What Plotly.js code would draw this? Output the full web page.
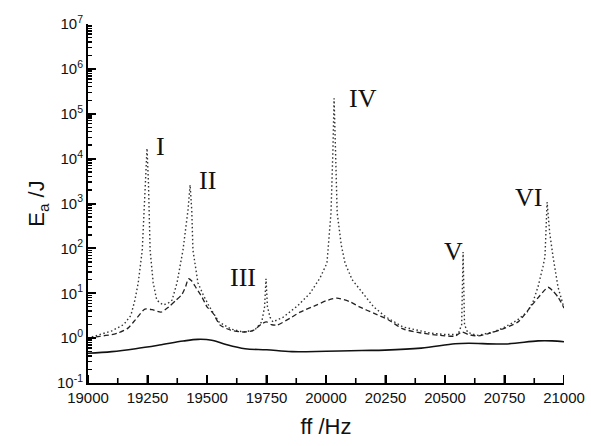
<!DOCTYPE html>
<html>
<head>
<meta charset="utf-8">
<script src="https://cdn.plot.ly/plotly-3.0.1.min.js"></script>
<style>html,body{margin:0;padding:0;background:#fff;}#chart{width:591px;height:446px;}</style>
</head>
<body>
<div id="chart"></div>
<script>
// Series (frequency in Hz, energy in J)
const freqDotted = [19000,19050,19100,19150,19180,19197,19211,19228,19242,19248,19254,19261,19274,19289,19315,19335,19353,19374,19399,19420,19429,19436,19441,19462,19485,19510,19550,19600,19650,19700,19730,19742,19748,19754,19765,19777,19819,19849,19880,19933,19975,20004,20021,20029,20034,20040,20047,20064,20080,20110,20155,20200,20250,20324,20437,20500,20555,20570,20576,20582,20595,20634,20700,20744,20803,20845,20870,20891,20912,20920,20929,20940,20954,20975,21000];
const valDotted  = [1.0,1.2,1.45,2.0,3.2,7,17,91,2900,17000,2900,91,17,7,5.5,5.9,7,17,91,700,2600,700,91,17,9,5,2.3,1.6,1.37,1.5,2.3,5,21,5,2.9,2.3,2.9,3.8,5.2,10,22,47,620,15000,220000,15000,620,120,47,20,10,5,3.0,1.77,1.3,1.2,1.2,2,83,2,1.35,1.15,1.35,1.68,2.5,3.8,6.5,14,40,65,1070,220,65,13.6,4.7];

const freqDashed = [19000,19050,19100,19126,19168,19200,19239,19270,19307,19340,19370,19395,19410,19422,19435,19455,19479,19500,19525,19555,19600,19651,19693,19731,19750,19770,19794,19850,19891,19962,20000,20046,20100,20143,20200,20260,20324,20400,20480,20542,20571,20600,20634,20680,20731,20807,20866,20900,20933,20955,20975,21000];
const valDashed  = [1.0,1.1,1.2,1.3,1.67,2.6,4.45,4.3,3.8,5,7,9.5,14,21,19,13,8.2,5,3.6,1.95,1.5,1.37,1.47,2.1,2.3,2.0,1.95,2.8,3.8,5.5,6.8,7.8,6.5,4.9,3.6,2.6,1.6,1.3,1.15,1.11,1.37,1.2,1.11,1.25,1.52,2.3,5.5,9,13.6,11,8.2,4.7];

const freqSolid = [19000,19100,19200,19300,19400,19462,19520,19580,19660,19750,19857,20000,20150,20248,20400,20542,20600,20752,20891,20950,21000];
const valSolid  = [0.46,0.5,0.58,0.7,0.86,0.94,0.9,0.72,0.58,0.55,0.50,0.51,0.53,0.54,0.6,0.75,0.77,0.74,0.87,0.87,0.83];

const xTicks = [19000,19250,19500,19750,20000,20250,20500,20750,21000];
const xMinorTicks = [19125,19375,19625,19875,20125,20375,20625,20875];
const yTickVals = [0.1,1,10,100,1000,10000,100000,1000000,10000000];
const yTickText = ['10<sup>-1</sup>','10<sup>0</sup>','10<sup>1</sup>','10<sup>2</sup>','10<sup>3</sup>','10<sup>4</sup>','10<sup>5</sup>','10<sup>6</sup>','10<sup>7</sup>'];
const yMinorMantissas = [2,3,4,5,6,7,8,9];

const peakLabels = ['I','II','III','IV','V','VI'];
const peakLabelX = [19303,19504,19651,20155,20534,20849];
const peakLabelY = [4.26,3.52,1.36,5.35,1.94,3.14];

// minor tick positions of the log axis (axis decoration)
const yMinorVals = [];
yTickVals.slice(0, -1).forEach(d => yMinorMantissas.forEach(m => yMinorVals.push(d * m)));

const traces = [
  {x: freqDotted, y: valDotted, mode: 'lines', line: {color: '#333', width: 1.4, dash: '1.5px,2.5px', shape: 'linear'}, hoverinfo: 'skip'},
  {x: freqDashed, y: valDashed, mode: 'lines', line: {color: '#222', width: 1.3, dash: '5px,3px', shape: 'spline', smoothing: 0.6}, hoverinfo: 'skip'},
  {x: freqSolid, y: valSolid, mode: 'lines', line: {color: '#111', width: 1.6, shape: 'spline', smoothing: 1}, hoverinfo: 'skip'}
];

const annotations = peakLabels.map((t, i) => ({
  x: peakLabelX[i], y: peakLabelY[i], xref: 'x', yref: 'y', text: t, showarrow: false,
  font: {family: 'Liberation Serif, Times New Roman, serif', size: 26, color: '#111'}
}));

// inward x-axis tick marks, drawn along the bottom axis
const plotH = 446 - 24 - 63;
const tickShapes = xTicks.map(v => ({type: 'line', xref: 'x', yref: 'paper', x0: v, x1: v, y0: 0, y1: 8 / plotH, line: {color: '#000', width: 2}}))
  .concat(xMinorTicks.map(v => ({type: 'line', xref: 'x', yref: 'paper', x0: v, x1: v, y0: 0, y1: 5 / plotH, line: {color: '#000', width: 1.6}})));

const layout = {
  width: 591, height: 446,
  margin: {l: 88, r: 27, t: 24, b: 63},
  paper_bgcolor: '#fff', plot_bgcolor: '#fff',
  showlegend: false,
  font: {family: 'Liberation Sans, Arial, sans-serif', color: '#111'},
  xaxis: {
    range: [19000, 21000], tickmode: 'array', tickvals: xTicks, ticktext: xTicks.map(String),
    ticks: 'inside', ticklen: 8, tickwidth: 2, tickcolor: '#000',
    showline: true, linecolor: '#000', linewidth: 2,
    showgrid: false, zeroline: false,
    tickfont: {size: 15, color: '#111'},
    title: {text: 'ff /Hz', font: {size: 22, color: '#111'}, standoff: 14}
  },
  yaxis: {
    type: 'log', range: [-1, 7], tickmode: 'array', tickvals: yTickVals, ticktext: yTickText,
    ticks: 'inside', ticklen: 8, tickwidth: 2, tickcolor: '#000',
    showline: true, linecolor: '#000', linewidth: 2,
    showgrid: false, zeroline: false,
    tickfont: {size: 15, color: '#111'},
    minor: {tickmode: 'array', tickvals: yMinorVals, ticks: 'inside', ticklen: 4, tickwidth: 1.4, tickcolor: '#000'},
    title: {text: 'E<sub>a</sub> /J', font: {size: 22, color: '#111'}, standoff: 6}
  },
  shapes: tickShapes,
  annotations: annotations
};

Plotly.newPlot('chart', traces, layout, {staticPlot: true, displayModeBar: false});
</script>
</body>
</html>
